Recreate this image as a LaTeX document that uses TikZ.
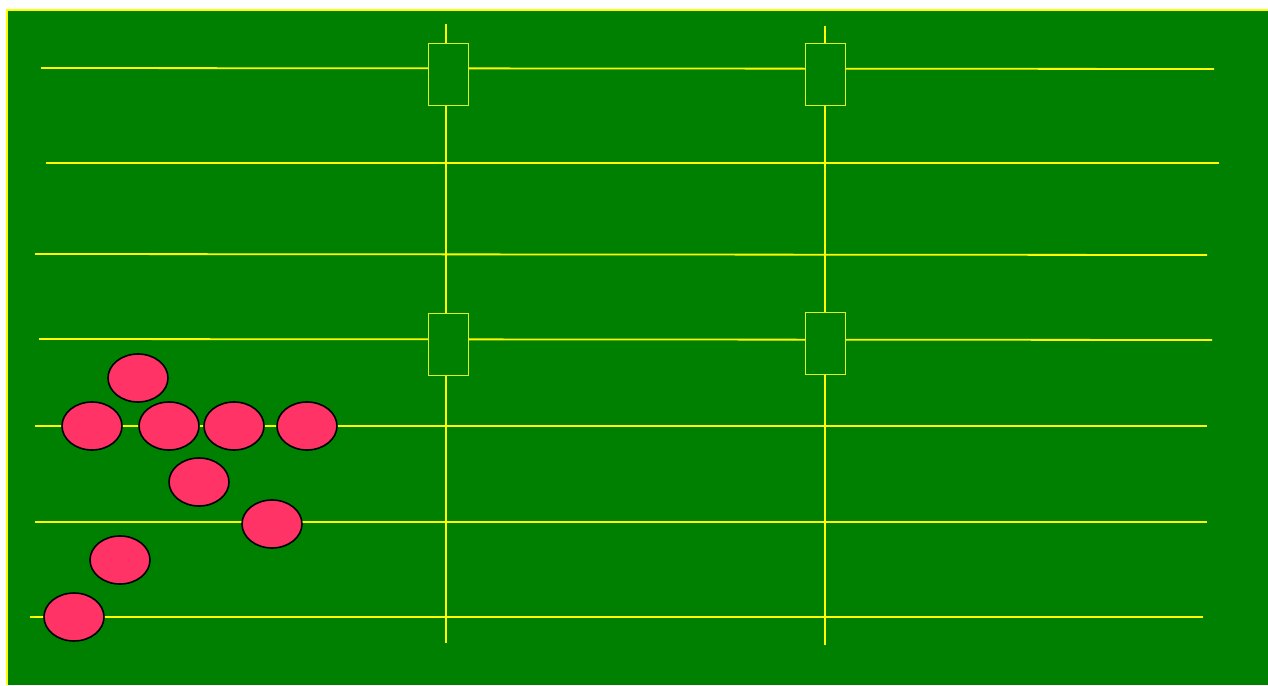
\documentclass[tikz,border=0pt]{standalone}
\usetikzlibrary{shapes.geometric}
\definecolor{fieldgreen}{HTML}{008000}
\definecolor{lineyellow}{HTML}{FFFF00}
\definecolor{boxyellow}{HTML}{E0F020}
\definecolor{playerpink}{HTML}{FF3366}
\tikzset{
  fieldline/.style={draw=lineyellow, line width=1.8pt},
  postbox/.style={rectangle, draw=boxyellow, fill=fieldgreen, line width=0.9pt, minimum width=40pt, minimum height=62pt, inner sep=0pt},
  player/.style={ellipse, draw=black, fill=playerpink, line width=1.6pt, minimum width=60pt, minimum height=48pt, inner sep=0pt},
}
\begin{document}
\begin{tikzpicture}[x=1pt,y=-1pt]
\useasboundingbox (0,0) rectangle (1268,685);
\fill[white] (0,0) rectangle (1268,685);
\fill[fieldgreen] (7,10) rectangle (1268,685);
\draw[lineyellow, line width=1.5pt] (7,685) -- (7,10) -- (1268,10);
% coordinates for line ends
\coordinate (h1a) at (41,68); \coordinate (h1b) at (1214,69);
\coordinate (h2a) at (46,163); \coordinate (h2b) at (1219,163);
\coordinate (h3a) at (35,254); \coordinate (h3b) at (1207,255);
\coordinate (h4a) at (39,339); \coordinate (h4b) at (1212,340);
\coordinate (h5a) at (35,426); \coordinate (h5b) at (1207,426);
\coordinate (h6a) at (35,522); \coordinate (h6b) at (1207,522);
\coordinate (h7a) at (30,617); \coordinate (h7b) at (1203,617);
\coordinate (v1a) at (446,24); \coordinate (v1b) at (446,643);
\coordinate (v2a) at (825,26); \coordinate (v2b) at (825,645);
% lines
\draw[fieldline] (h2a) -- (h2b);
\draw[fieldline] (h3a) -- (h3b);
\draw[fieldline] (h5a) -- (h5b);
\draw[fieldline] (h6a) -- (h6b);
\draw[fieldline] (h7a) -- (h7b);
\draw[fieldline] (h1a) -- (h1b);
\draw[fieldline] (h4a) -- (h4b);
\draw[fieldline] (v1a) -- (v1b);
\draw[fieldline] (v2a) -- (v2b);
% boxes
\node[postbox] (b1) at (448,74) {};
\node[postbox] (b2) at (825,74) {};
\node[postbox] (b3) at (448,344.5) {};
\node[postbox] (b4) at (825,343) {};
% players
\node[player] (p1) at (138,378) {};
\node[player] (p2) at (92,426) {};
\node[player] (p3) at (169,426) {};
\node[player] (p4) at (234,426) {};
\node[player] (p5) at (307,426) {};
\node[player] (p6) at (199,482) {};
\node[player] (p7) at (272,524) {};
\node[player] (p8) at (120,560) {};
\node[player] (p9) at (74,617) {};
\end{tikzpicture}
\end{document}
